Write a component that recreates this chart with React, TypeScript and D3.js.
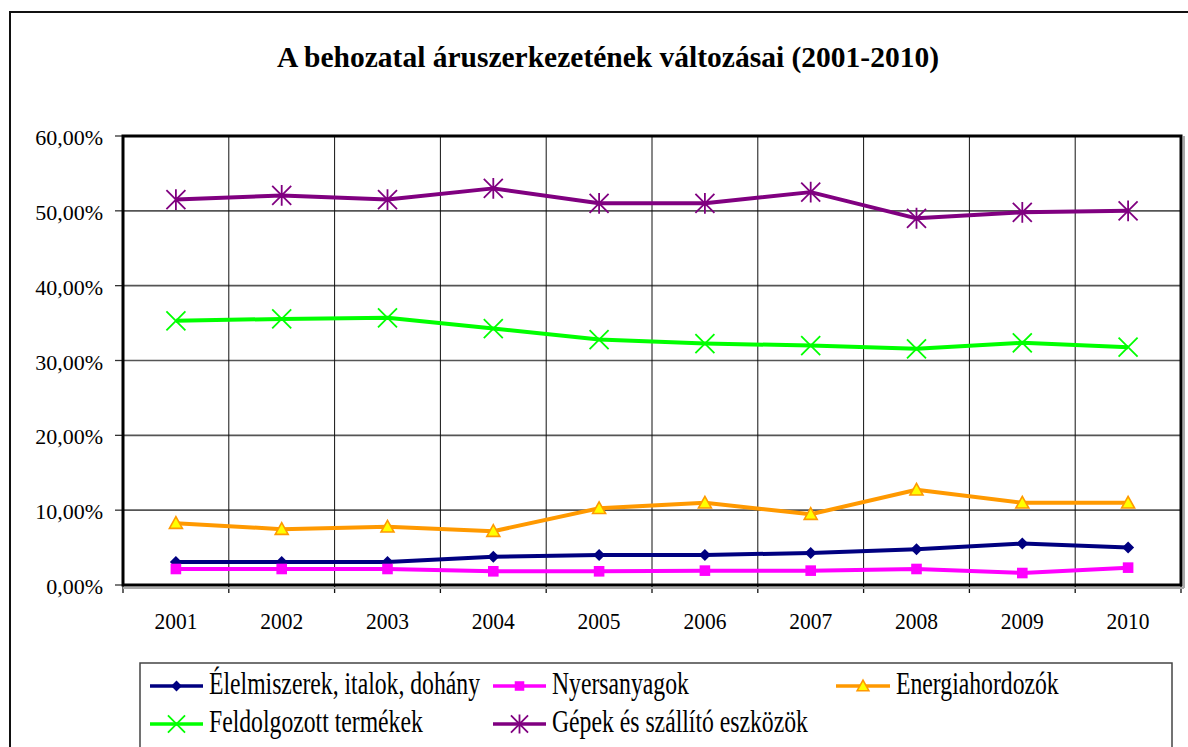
import React from "react";
import * as d3 from "d3";

const years = ["2001", "2002", "2003", "2004", "2005", "2006", "2007", "2008", "2009", "2010"];
const yTicks = [0, 10, 20, 30, 40, 50, 60];

const elelmiszer = [3.08, 3.08, 3.08, 3.79, 4.0, 4.0, 4.29, 4.78, 5.54, 5.0];
const nyersanyag = [2.14, 2.14, 2.14, 1.83, 1.83, 1.92, 1.92, 2.14, 1.6, 2.32];
const energia = [8.26, 7.46, 7.77, 7.19, 10.25, 10.98, 9.46, 12.72, 10.98, 10.98];
const feldolgozott = [35.3, 35.56, 35.7, 34.27, 32.8, 32.27, 32.0, 31.56, 32.36, 31.78];
const gepek = [51.5, 52.06, 51.5, 53.0, 51.0, 51.0, 52.5, 49.0, 49.8, 50.0];

const seriesNames = [
  "Élelmiszerek, italok, dohány",
  "Nyersanyagok",
  "Energiahordozók",
  "Feldolgozott termékek",
  "Gépek és szállító eszközök",
];

const W = 1188;
const H = 747;
const plot = { left: 123, top: 136, right: 1181, bottom: 585 };
const FONT = "Liberation Serif";

type Series = { name: string; values: number[]; color: string; marker: string };

const series: Series[] = [
  { name: seriesNames[0], values: elelmiszer, color: "#000080", marker: "diamond" },
  { name: seriesNames[1], values: nyersanyag, color: "#FF00FF", marker: "square" },
  { name: seriesNames[2], values: energia, color: "#FF9900", marker: "triangle" },
  { name: seriesNames[3], values: feldolgozott, color: "#00FF00", marker: "x" },
  { name: seriesNames[4], values: gepek, color: "#800080", marker: "star" },
];

function Marker({ type, x, y, color, k = 1 }: { type: string; x: number; y: number; color: string; k?: number }) {
  if (type === "diamond") {
    const s = 6 * k;
    return <path d={`M${x},${y - s}L${x + s},${y}L${x},${y + s}L${x - s},${y}Z`} fill={color} />;
  }
  if (type === "square") {
    const s = 5.3 * k;
    return <rect x={x - s} y={y - s} width={2 * s} height={2 * s} fill={color} />;
  }
  if (type === "triangle") {
    const s = 6.5 * k;
    return (
      <path
        d={`M${x},${y - s}L${x + s},${y + s * 0.8}L${x - s},${y + s * 0.8}Z`}
        fill="#FFFF00"
        stroke={color}
        strokeWidth={1.6}
      />
    );
  }
  if (type === "x") {
    const s = 9.5 * k;
    return (
      <path
        d={`M${x - s},${y - s}L${x + s},${y + s}M${x - s},${y + s}L${x + s},${y - s}`}
        stroke={color}
        strokeWidth={1.8}
      />
    );
  }
  const s = 9.5 * k;
  return (
    <path
      d={`M${x - s},${y - s}L${x + s},${y + s}M${x - s},${y + s}L${x + s},${y - s}M${x},${y - s * 1.1}L${x},${y + s * 1.1}`}
      stroke={color}
      strokeWidth={1.8}
    />
  );
}

export default function App() {
  const x = d3.scaleBand<string>().domain(years).range([plot.left, plot.right]);
  const y = d3.scaleLinear().domain([0, 60]).range([plot.bottom, plot.top]);
  const cx = (yr: string) => (x(yr) as number) + x.bandwidth() / 2;
  const line = d3
    .line<number>()
    .x((_, i) => cx(years[i]))
    .y((v) => y(v));

  const boundaries = years.map((yr) => x(yr) as number).concat([plot.right]);

  const legendItems = [
    { s: series[0], lx: 150, ly: 686, len: 53 },
    { s: series[1], lx: 493, ly: 686, len: 53 },
    { s: series[2], lx: 836, ly: 686, len: 54 },
    { s: series[3], lx: 150, ly: 724, len: 53 },
    { s: series[4], lx: 493, ly: 724, len: 53 },
  ];

  const txt = { fontFamily: FONT };

  return (
    <svg
      width={W}
      height={H}
      style={{ position: "fixed", left: 0, top: 0, display: "block", background: "#fff", fontFamily: FONT }}
    >
      <rect x={0} y={0} width={W} height={H} fill="#fff" />
      <rect x={10} y={12} width={W + 20} height={H + 20} fill="none" stroke="#111" strokeWidth={2} />

      <text x={608} y={67} textAnchor="middle" fontSize={29.5} fontWeight="bold" fill="#000" style={txt}>
        A behozatal áruszerkezetének változásai (2001-2010)
      </text>

      {yTicks.map((t) => (
        <line
          key={"h" + t}
          x1={plot.left}
          x2={plot.right}
          y1={y(t)}
          y2={y(t)}
          stroke="#555"
          strokeWidth={1.6}
        />
      ))}
      {boundaries.map((b, i) => (
        <line key={"v" + i} x1={b} x2={b} y1={plot.top} y2={plot.bottom} stroke="#111" strokeWidth={1} />
      ))}

      {yTicks.map((t) => (
        <g key={"yt" + t}>
          <line x1={plot.left - 8} x2={plot.left} y1={y(t)} y2={y(t)} stroke="#333" strokeWidth={1.3} />
          <text x={plot.left - 20} y={y(t) + 9} textAnchor="end" fontSize={22} fill="#000" style={txt}>
            {d3.format(".2f")(t).replace(".", ",") + "%"}
          </text>
        </g>
      ))}

      {boundaries.map((b, i) => (
        <line key={"xt" + i} x1={b} x2={b} y1={plot.bottom} y2={plot.bottom + 8} stroke="#111" strokeWidth={1.3} />
      ))}
      {years.map((yr) => (
        <text
          key={"xl" + yr}
          transform={`translate(${cx(yr)},629) scale(1,1.12)`}
          textAnchor="middle"
          fontSize={21.5}
          fill="#000"
          style={txt}
        >
          {yr}
        </text>
      ))}

      {/* shadow of plot frame */}
      <line x1={plot.left} x2={plot.right + 3} y1={plot.bottom + 3} y2={plot.bottom + 3} stroke="#aaa" strokeWidth={2} />
      <line x1={plot.right + 3} x2={plot.right + 3} y1={plot.top} y2={plot.bottom + 3} stroke="#aaa" strokeWidth={2} />
      <rect
        x={plot.left}
        y={plot.top}
        width={plot.right - plot.left}
        height={plot.bottom - plot.top}
        fill="none"
        stroke="#000"
        strokeWidth={3}
      />

      {series.map((s) => (
        <g key={s.name}>
          <path d={line(s.values) || ""} fill="none" stroke={s.color} strokeWidth={4} strokeLinejoin="round" />
          {s.values.map((v, i) => (
            <Marker key={i} type={s.marker} x={cx(years[i])} y={y(v)} color={s.color} />
          ))}
        </g>
      ))}

      <rect x={140} y={663} width={1032} height={100} fill="#fff" stroke="#444" strokeWidth={1.5} />
      {legendItems.map(({ s, lx, ly, len }) => (
        <g key={"lg" + s.name}>
          <line x1={lx} x2={lx + len} y1={ly} y2={ly} stroke={s.color} strokeWidth={3.5} />
          <Marker type={s.marker} x={lx + len / 2} y={ly} color={s.color} k={0.9} />
          <text
            transform={`translate(${lx + len + 6},${ly + 7.5}) scale(1,1.35)`}
            fontSize={23.7}
            fill="#000"
            style={txt}
          >
            {s.name}
          </text>
        </g>
      ))}
    </svg>
  );
}
